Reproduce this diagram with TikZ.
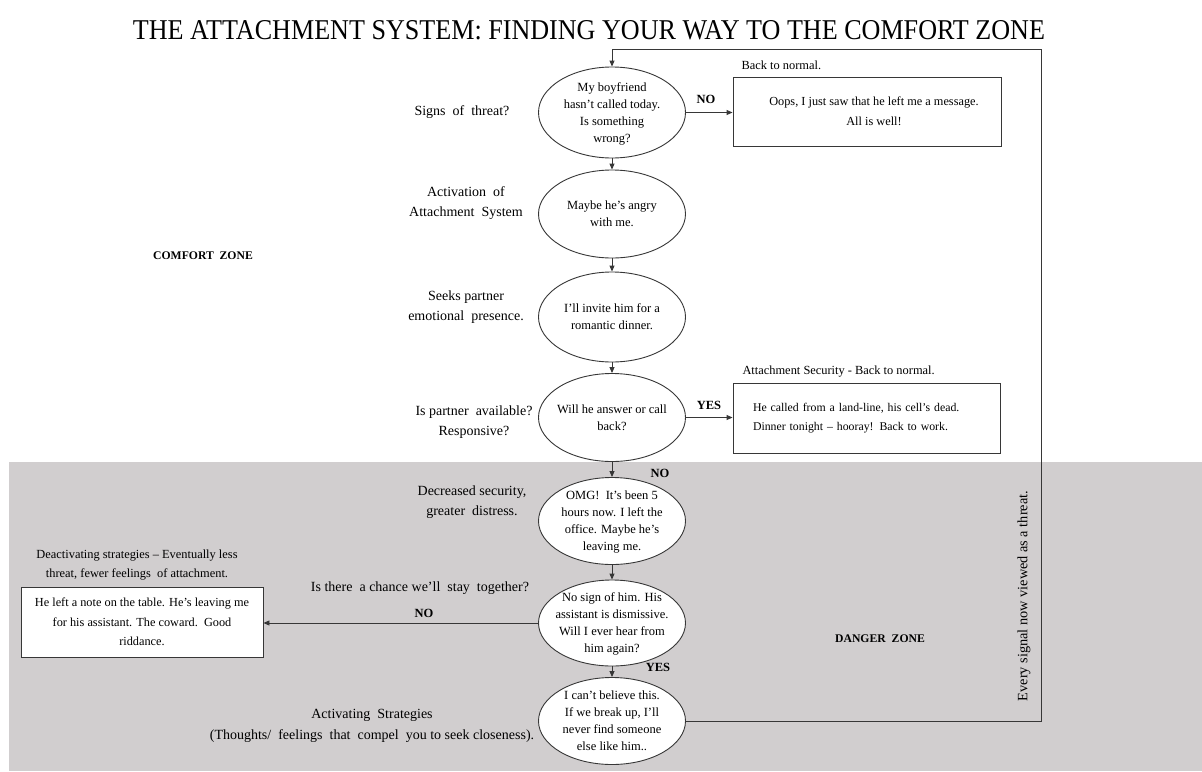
\documentclass[tikz,border=0pt]{standalone}
\usepackage{fontspec}
\setmainfont{Liberation Serif}
\usetikzlibrary{shapes.geometric,arrows.meta}
\definecolor{dangergray}{RGB}{209,206,207}
\definecolor{linegray}{RGB}{55,55,55}
% centred lines that take no room, so the oval keeps its set size
\newcommand\ovaltext[1]{\makebox[0pt]{\raisebox{-0.3em}[0pt][0pt]{\begin{tabular}{@{}c@{}}#1\end{tabular}}}}

\begin{document}
\begin{tikzpicture}[x=1pt,y=-1pt,
  thought/.style={ellipse, draw=linegray, line width=0.9pt, fill=white,
    minimum width=147pt, minimum height=88pt, inner sep=0pt,
    font=\fontsize{12.5}{17}\selectfont},
  outcome/.style={rectangle, draw=linegray, line width=0.9pt, fill=white,
    inner sep=0pt, align=center, font=\fontsize{12.3}{19.5}\selectfont},
  stage/.style={align=center, font=\fontsize{14}{20.5}\selectfont},
  note/.style={align=center, font=\fontsize{12.4}{19}\selectfont},
  answer/.style={font=\fontsize{12.5}{14}\selectfont\bfseries},
  zone/.style={font=\fontsize{11.7}{14}\selectfont\bfseries},
  flow/.style={-{Triangle[length=6pt,width=5pt]}, draw=linegray, line width=0.9pt},
]
\useasboundingbox (0,0) rectangle (1202,771);
\fill[white] (0,0) rectangle (1202,771);
% lower band
\fill[dangergray] (9,462) rectangle (1202,771);

% title
\node (title) at (589,30)
  {\resizebox{912pt}{19pt}{THE ATTACHMENT SYSTEM: FINDING YOUR WAY TO THE COMFORT ZONE}};

% zone names
\node[zone] (comfort) at (203,256) {COMFORT\ \ ZONE};
\node[zone] (danger) at (880,639) {DANGER\ \ ZONE};

% central chain of thoughts
\node[thought, minimum height=91pt] (e1) at (612,112.5)
  {\ovaltext{My boyfriend\\hasn’t called today.\\Is something\\wrong?}};
\node[thought] (e2) at (612,214) {\ovaltext{Maybe he’s angry\\with me.}};
\node[thought, minimum height=90pt] (e3) at (612,317) {\ovaltext{I’ll invite him for a\\romantic dinner.}};
\node[thought] (e4) at (612,417.5) {\ovaltext{Will he answer or call\\back?}};
\node[thought, minimum height=87pt] (e5) at (612,521)
  {\ovaltext{OMG!\ \ It’s been 5\\hours now. I left the\\office. Maybe he’s\\leaving me.}};
\node[thought, minimum height=86pt] (e6) at (612,623)
  {\ovaltext{No sign of him. His\\assistant is dismissive.\\Will I ever hear from\\him again?}};
\node[thought, minimum height=87pt] (e7) at (612,721)
  {\ovaltext{I can’t believe this.\\If we break up, I’ll\\never find someone\\else like him..}};

% stage labels
\node[stage] (s1) at (462,112) {Signs\ \ of\ \ threat?};
\node[stage] (s2) at (466,203) {Activation\ \ of\\Attachment\ \ System};
\node[stage] (s3) at (466,307) {Seeks partner\\emotional\ \ presence.};
\node[stage] (s4) at (474,422) {Is partner\ \ available?\\Responsive?};
\node[stage] (s5) at (472,502) {Decreased security,\\greater\ \ distress.};
\node[stage] (s6) at (420,588) {Is there\ \ a chance we’ll\ \ stay\ \ together?};
\node[stage] (s7) at (372,726)
  {Activating\ \ Strategies\\(Thoughts/\ \ feelings\ \ that\ \ compel\ \ you to seek closeness).};

% outcome boxes
\node[outcome, minimum width=268pt, minimum height=69pt] (b1) at (867,111.5)
  {\hspace*{14pt}Oops, I just saw that he left me a message.\\\hspace*{14pt}All is well!};
\node[outcome, minimum width=267pt, minimum height=70pt, text width=227pt,
  inner xsep=20pt, align=left, font=\fontsize{11.8}{18.5}\selectfont] (b2) at (866.5,418)
  {He called from a land-line, his cell’s dead.\\Dinner tonight -- hooray! Back to work.};
\node[outcome, minimum width=242pt, minimum height=70pt] (b3) at (142,622)
  {He left a note on the table. He’s leaving me\\for his assistant. The coward.\ \ Good\\riddance.};

% captions over the boxes
\node[note, anchor=west] (c1) at (738,65) {Back to normal.};
\node[note, anchor=west] (c2) at (739,372) {Attachment Security - Back to normal.};
\node[note] (c3) at (137,565)
  {Deactivating strategies -- Eventually less\\threat, fewer feelings\ \ of attachment.};

% answers on the connectors
\node[answer] (n1) at (706,99) {NO};
\node[answer] (y1) at (709,405) {YES};
\node[answer] (n2) at (660,473) {NO};
\node[answer] (y2) at (658,667) {YES};
\node[answer] (n3) at (424,613) {NO};

% connectors
\draw[flow] (e1.south) -- (e2.north);
\draw[flow] (e2.south) -- (e3.north);
\draw[flow] (e3.south) -- (e4.north);
\draw[flow] (e4.south) -- (e5.north);
\draw[flow] (e5.south) -- (e6.north);
\draw[flow] (e6.south) -- (e7.north);
\draw[flow] (e1.east) -- (e1.east -| b1.west);
\draw[flow] (e4.east) -- (e4.east -| b2.west);
\draw[flow] (e6.west) -- (e6.west -| b3.east);

% return loop
\coordinate (loopNE) at (1041,49);
\draw[flow] (e7.east) -- (e7.east -| loopNE) -- (loopNE) -- (loopNE -| e1.north) -- (e1.north);
\node[rotate=90, font=\fontsize{14.3}{16}\selectfont] (signal) at (1024,596)
  {Every signal now viewed as a threat.};
\end{tikzpicture}
\end{document}
